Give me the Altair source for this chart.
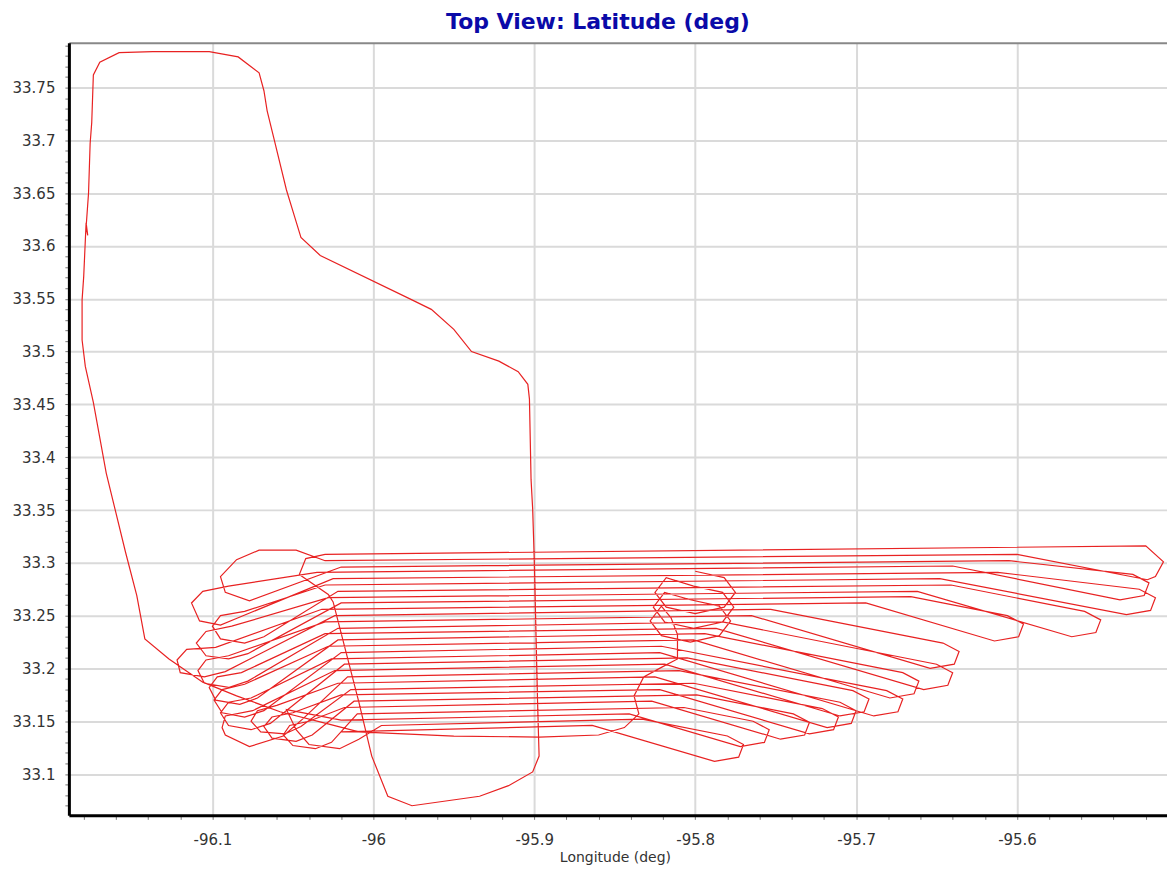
import altair as alt
import pandas as pd

# ---------------- data (longitude, latitude) ----------------
# holding pattern (three stacked orbits)
hold_lon = [-95.800, -95.782, -95.775, -95.782, -95.800, -95.818, -95.825, -95.818,
            -95.801, -95.783, -95.776, -95.783, -95.801, -95.819, -95.826, -95.819,
            -95.803, -95.785, -95.778, -95.785, -95.803, -95.821, -95.828, -95.821]
hold_lat = [33.292, 33.286, 33.272, 33.258, 33.252, 33.258, 33.272, 33.286,
            33.278, 33.272, 33.258, 33.244, 33.238, 33.244, 33.258, 33.272,
            33.265, 33.259, 33.245, 33.231, 33.225, 33.231, 33.245, 33.259]

# transit leg: out of the orbit, west, up the western side, round the north loop,
# down the -95.9 meridian, round the southern loop and into the survey
transit_lon = [-95.815, -95.811, -95.811, -95.821, -95.832, -95.838, -95.835, -95.844,
               -95.860, -95.897, -95.950, -96.009, -96.027, -96.058, -96.085, -96.106,
               -96.127, -96.142, -96.147, -96.154, -96.166, -96.174, -96.179, -96.181,
               -96.181, -96.180, -96.1785, -96.1775, -96.1785, -96.177, -96.176, -96.175,
               -96.174, -96.170, -96.158, -96.137, -96.102, -96.084, -96.071, -96.068,
               -96.066, -96.062, -96.054, -96.049, -96.045, -96.033, -95.976, -95.964,
               -95.950, -95.939, -95.922, -95.910, -95.904, -95.903, -95.902, -95.901,
               -95.900, -95.899, -95.898, -95.897, -95.901, -95.916, -95.934, -95.976,
               -95.991, -96.001, -96.009, -96.025, -96.028, -96.046, -96.042, -96.030]
transit_lat = [33.248, 33.232, 33.209, 33.201, 33.192, 33.174, 33.157, 33.144,
               33.137, 33.135, 33.136, 33.140, 33.147, 33.159, 33.174, 33.187,
               33.209, 33.228, 33.269, 33.310, 33.385, 33.452, 33.486, 33.511,
               33.549, 33.571, 33.622, 33.610, 33.618, 33.650, 33.697, 33.717,
               33.762, 33.774, 33.783, 33.784, 33.784, 33.779, 33.764, 33.747,
               33.728, 33.703, 33.653, 33.628, 33.608, 33.591, 33.549, 33.540,
               33.521, 33.500, 33.491, 33.481, 33.469, 33.455, 33.379, 33.351,
               33.303, 33.237, 33.171, 33.117, 33.102, 33.089, 33.079, 33.070,
               33.079, 33.117, 33.168, 33.263, 33.270, 33.289, 33.304, 33.308]

# east-end turns of the survey lines (each: leave line, tip of the loop, rejoin next line)
east_turns = [
    [(-95.520, 33.316), (-95.509, 33.301), (-95.514, 33.287), (-95.519, 33.284), (-95.600, 33.308)],
    [(-95.605, 33.302), (-95.528, 33.289), (-95.518, 33.281), (-95.521, 33.269), (-95.536, 33.265), (-95.640, 33.297)],
    [(-95.612, 33.291), (-95.524, 33.275), (-95.514, 33.267), (-95.517, 33.255), (-95.532, 33.251), (-95.648, 33.285)],
    [(-95.641, 33.279), (-95.558, 33.254), (-95.548, 33.246), (-95.551, 33.234), (-95.566, 33.230), (-95.662, 33.273)],
    [(-95.666, 33.268), (-95.606, 33.250), (-95.596, 33.242), (-95.599, 33.230), (-95.614, 33.226), (-95.694, 33.262)],
    [(-95.753, 33.256), (-95.646, 33.224), (-95.636, 33.216), (-95.639, 33.204), (-95.654, 33.200), (-95.765, 33.250)],
    [(-95.783, 33.244), (-95.650, 33.204), (-95.640, 33.196), (-95.643, 33.184), (-95.658, 33.180), (-95.787, 33.238)],
    [(-95.794, 33.233), (-95.671, 33.196), (-95.661, 33.188), (-95.664, 33.176), (-95.679, 33.172), (-95.801, 33.227)],
    [(-95.821, 33.221), (-95.681, 33.179), (-95.671, 33.171), (-95.674, 33.159), (-95.689, 33.155), (-95.822, 33.215)],
    [(-95.805, 33.210), (-95.702, 33.179), (-95.692, 33.171), (-95.695, 33.159), (-95.710, 33.155), (-95.819, 33.204)],
    [(-95.810, 33.198), (-95.710, 33.168), (-95.700, 33.160), (-95.703, 33.148), (-95.718, 33.144), (-95.825, 33.192)],
    [(-95.801, 33.186), (-95.721, 33.162), (-95.711, 33.154), (-95.714, 33.142), (-95.729, 33.138), (-95.822, 33.180)],
    [(-95.799, 33.175), (-95.739, 33.157), (-95.729, 33.149), (-95.732, 33.137), (-95.747, 33.133), (-95.827, 33.169)],
    [(-95.807, 33.163), (-95.764, 33.150), (-95.754, 33.142), (-95.757, 33.130), (-95.772, 33.126), (-95.841, 33.157)],
    [(-95.833, 33.152), (-95.780, 33.136), (-95.770, 33.128), (-95.773, 33.116), (-95.788, 33.112), (-95.864, 33.146)],
]

# west-end turns
west_turns = [
    [(-96.030, 33.302), (-96.048, 33.312), (-96.071, 33.312), (-96.085, 33.303), (-96.095, 33.287), (-96.092, 33.272), (-96.077, 33.264), (-96.020, 33.296)],
    [(-96.035, 33.291), (-96.090, 33.278), (-96.106, 33.273), (-96.113, 33.262), (-96.108, 33.245), (-96.095, 33.241), (-96.084, 33.248), (-96.025, 33.285)],
    [(-96.030, 33.279), (-96.080, 33.254), (-96.095, 33.250), (-96.100, 33.240), (-96.095, 33.228), (-96.080, 33.224), (-96.068, 33.230), (-96.022, 33.273)],
    [(-96.028, 33.267), (-96.088, 33.240), (-96.104, 33.235), (-96.110, 33.224), (-96.104, 33.212), (-96.090, 33.209), (-96.078, 33.214), (-96.020, 33.262)],
    [(-96.032, 33.256), (-96.098, 33.220), (-96.116, 33.218), (-96.122, 33.208), (-96.120, 33.196), (-96.105, 33.192), (-96.092, 33.197), (-96.024, 33.250)],
    [(-96.030, 33.244), (-96.090, 33.212), (-96.104, 33.208), (-96.109, 33.198), (-96.105, 33.186), (-96.090, 33.182), (-96.078, 33.188), (-96.022, 33.238)],
    [(-96.030, 33.233), (-96.082, 33.196), (-96.097, 33.192), (-96.102, 33.182), (-96.098, 33.170), (-96.083, 33.166), (-96.072, 33.172), (-96.022, 33.227)],
    [(-96.028, 33.221), (-96.080, 33.185), (-96.094, 33.180), (-96.099, 33.170), (-96.094, 33.158), (-96.080, 33.154), (-96.068, 33.160), (-96.020, 33.215)],
    [(-96.026, 33.209), (-96.076, 33.172), (-96.090, 33.168), (-96.095, 33.158), (-96.090, 33.146), (-96.076, 33.142), (-96.064, 33.148), (-96.018, 33.204)],
    [(-96.024, 33.198), (-96.075, 33.160), (-96.092, 33.155), (-96.094, 33.144), (-96.092, 33.137), (-96.077, 33.126), (-96.056, 33.136), (-96.044, 33.152), (-96.016, 33.192)],
    [(-96.022, 33.186), (-96.060, 33.165), (-96.072, 33.160), (-96.076, 33.150), (-96.070, 33.140), (-96.055, 33.138), (-96.045, 33.145), (-96.014, 33.180)],
    [(-96.020, 33.175), (-96.050, 33.158), (-96.063, 33.154), (-96.068, 33.145), (-96.063, 33.134), (-96.048, 33.131), (-96.038, 33.137), (-96.012, 33.169)],
    [(-96.018, 33.163), (-96.040, 33.150), (-96.052, 33.146), (-96.056, 33.137), (-96.050, 33.127), (-96.036, 33.124), (-96.026, 33.130), (-96.010, 33.157)],
    [(-96.020, 33.151), (-96.054, 33.161), (-96.048, 33.142), (-96.040, 33.128), (-96.021, 33.124), (-96.009, 33.133), (-95.995, 33.146)],
]

survey_end = [(-96.020, 33.140)]

# axis tick values
x_major = [-96.1, -96.0, -95.9, -95.8, -95.7, -95.6]
y_major = [33.1, 33.15, 33.2, 33.25, 33.3, 33.35, 33.4, 33.45, 33.5, 33.55, 33.6, 33.65, 33.7, 33.75]
x_ticks = [round(-96.18 + 0.02 * i, 2) for i in range(34)]
y_ticks = [round(33.07 + 0.01 * i, 2) for i in range(73)]

# ---------------- assemble the flight path in order ----------------
pts = list(zip(hold_lon, hold_lat)) + list(zip(transit_lon, transit_lat))
for k in range(len(east_turns)):
    pts += east_turns[k]
    if k < len(west_turns):
        pts += west_turns[k]
pts += survey_end

df = pd.DataFrame(pts, columns=["lon", "lat"])
df["idx"] = range(len(df))

X_DOMAIN = [-96.1892, -95.5068]
Y_DOMAIN = [33.0609, 33.7925]

major_x = "abs(datum.value*10 - round(datum.value*10)) < 0.001"
major_y = "abs(datum.value*20 - round(datum.value*20)) < 0.001"

FONT = "DejaVu Sans"

x_axis = alt.Axis(
    values=x_ticks,
    labelExpr=f"({major_x}) ? '' + datum.value : ''",
    grid=True,
    gridOpacity={"condition": {"test": major_x, "value": 1}, "value": 0},
    gridColor="#dadada", gridWidth=2,
    domainColor="#000000", domainWidth=3,
    tickColor="#777777", tickSize=4, tickWidth=1,
    labelFont=FONT, labelFontSize=15, labelColor="#333333", labelPadding=13,
    labelFlush=False, labelOverlap=False,
    title="Longitude (deg)", titleFont=FONT, titleFontSize=14,
    titleFontWeight="normal", titleColor="#333333",
    titleX=547, titleY=46, titleBaseline="alphabetic",
)
y_axis = alt.Axis(
    values=y_ticks,
    labelExpr=f"({major_y}) ? '' + datum.value : ''",
    grid=True,
    gridOpacity={"condition": {"test": major_y, "value": 1}, "value": 0},
    gridColor="#dadada", gridWidth=2,
    domainColor="#000000", domainWidth=3,
    tickColor="#777777", tickSize=4, tickWidth=1,
    labelFont=FONT, labelFontSize=15, labelColor="#333333", labelPadding=10,
    labelFlush=False, labelOverlap=False,
    title="",
)

xscale = alt.Scale(domain=X_DOMAIN, zero=False, nice=False)
yscale = alt.Scale(domain=Y_DOMAIN, zero=False, nice=False)

path = alt.Chart(df).mark_line(color="#e82222", strokeWidth=1.2, clip=True).encode(
    x=alt.X("lon:Q", scale=xscale, axis=x_axis),
    y=alt.Y("lat:Q", scale=yscale, axis=y_axis),
    order=alt.Order("idx:Q"),
)

top_frame = alt.Chart(df).mark_point(opacity=0).encode(
    x=alt.X("lon:Q", scale=xscale,
            axis=alt.Axis(orient="top", labels=False, ticks=False, grid=False,
                          domainColor="#888888", domainWidth=2, title="")),
)

chart = alt.layer(path, top_frame).resolve_axis(x="independent").properties(
    width=1100,
    height=774,
    title=alt.TitleParams(
        text="Top View: Latitude (deg)", font=FONT, fontSize=22, fontWeight="bold",
        color="#0a0aa8", anchor="middle", dx=-20, offset=4,
    ),
    autosize=alt.AutoSizeParams(type="none"),
    padding={"left": 61, "top": 34, "right": 0, "bottom": 50},
).configure_view(stroke="transparent")

chart.save("out.html", embed_options={"renderer": "svg", "actions": False})
